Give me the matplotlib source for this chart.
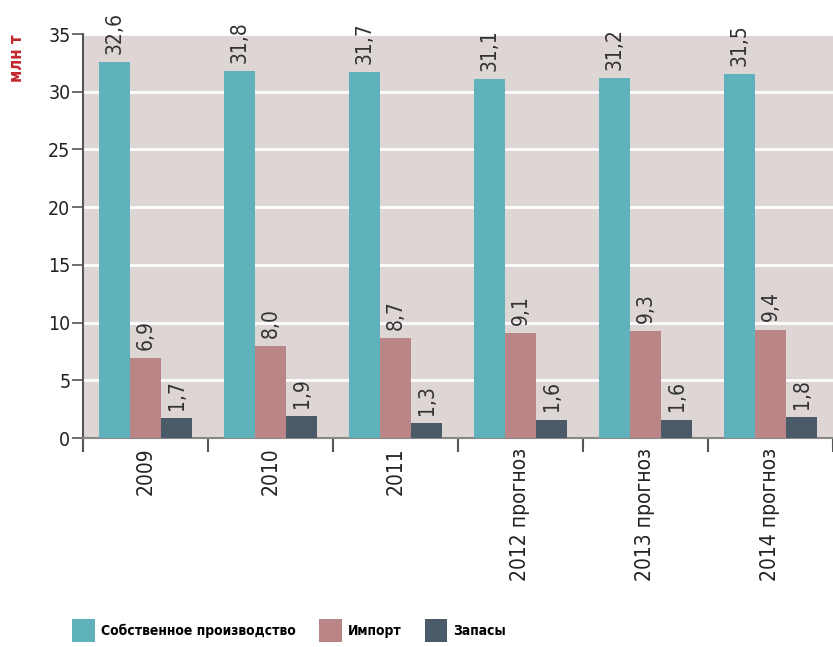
import numpy as np
import matplotlib.pyplot as plt

plt.rcParams['font.family'] = ['DejaVu Sans']
plt.rcParams['font.stretch'] = 'condensed'

years = ['2009', '2010', '2011', '2012 прогноз', '2013 прогноз', '2014 прогноз']
own = [32.6, 31.8, 31.7, 31.1, 31.2, 31.5]
imports = [6.9, 8.0, 8.7, 9.1, 9.3, 9.4]
stocks = [1.7, 1.9, 1.3, 1.6, 1.6, 1.8]
names = ['Собственное производство', 'Импорт', 'Запасы']
colors = ['#5fb1bb', '#b98586', '#4b5a69']

fig = plt.figure(figsize=(8.33, 6.47), dpi=100)
ax = fig.add_axes([0.0996, 0.323, 0.9004, 0.6244])
ax.set_facecolor('#ddd6d5')

x = np.arange(len(years))
w = 0.25
for i, (vals, c, n) in enumerate(zip([own, imports, stocks], colors, names)):
    pos = x + (i - 1) * w
    ax.bar(pos, vals, width=w, color=c, label=n, zorder=3)
    for p, v in zip(pos, vals):
        ax.text(p, v + 0.7, f'{v:.1f}'.replace('.', ','), rotation=90,
                ha='center', va='bottom', fontsize=15, color='#333333')

ax.set_xlim(-0.5, 5.41)
ax.set_ylim(0, 35)
ax.set_yticks(range(0, 36, 5))
ax.yaxis.grid(True, color='white', linewidth=2, zorder=1)
ax.set_axisbelow(True)

ax.set_xticks(x)
ax.set_xticklabels(years, rotation=90, fontsize=15, color='#222222')
ax.tick_params(axis='x', length=0, pad=7)
ax.set_xticks(np.arange(-0.5, 6, 1), minor=True)
ax.tick_params(axis='x', which='minor', length=10, width=1.5, color='#555555', direction='out')
ax.tick_params(axis='y', length=8, width=1.2, color='#555555', labelsize=14, pad=1, labelcolor='#222222')

for s in ['top', 'right']:
    ax.spines[s].set_visible(False)
ax.spines['left'].set_color('#555555')
ax.spines['left'].set_linewidth(1.5)
ax.spines['bottom'].set_color('#888888')
ax.spines['bottom'].set_linewidth(1.5)

fig.text(0.021, 0.947, 'млн т', rotation=90, ha='center', va='top',
         color='#c0272d', fontsize=12, fontweight='bold')

fig.legend(loc='center left', bbox_to_anchor=(0.072, 0.026), ncol=3, frameon=False,
           prop={'size': 10, 'weight': 'bold'}, handlelength=1.6, handleheight=2.2,
           handletextpad=0.45, columnspacing=1.7)

fig.savefig('out.png', dpi=100)
